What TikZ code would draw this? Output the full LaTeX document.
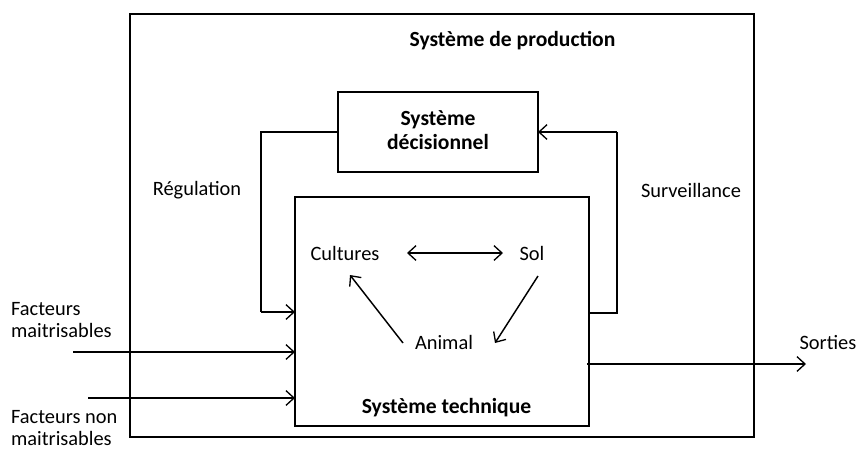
\documentclass[tikz,border=0pt]{standalone}
\usepackage{fontspec}
\setmainfont{Carlito}
\usetikzlibrary{arrows.meta}
\begin{document}
\begin{tikzpicture}[x=0.75pt,y=-0.75pt,
  line width=1.1pt,
  arr/.style={-{Straight Barb[length=6pt,width=11pt,line width=1pt]}},
  darr/.style={{Straight Barb[length=6pt,width=11pt,line width=1pt]}-{Straight Barb[length=6pt,width=11pt,line width=1pt]}},
  box/.style={draw,line width=1.1pt,inner sep=0pt},
  lbl/.style={font=\fontsize{15.3pt}{17pt}\selectfont,inner sep=1pt},
  blbl/.style={font=\fontsize{16.2pt}{17.5pt}\selectfont\bfseries,inner sep=1pt,align=center}]
\useasboundingbox (0,0) rectangle (858,451);
% boxes
\node[box,minimum width=624*0.75pt,minimum height=423*0.75pt] (prod) at (442,225.5) {};
\node[box,minimum width=200*0.75pt,minimum height=80*0.75pt] (dec) at (438,132) {};
\node[box,minimum width=294*0.75pt,minimum height=229*0.75pt] (tech) at (442,311.5) {};
% texts
\node[blbl] (tprod) at (512.5,41) {Système de production};
\node[blbl] (tdec) at (438,130) {Système\\décisionnel};
\node[blbl] (ttech) at (446.5,408) {Système technique};
\node[lbl] (reg) at (197,190) {Régulation};
\node[lbl] (sur) at (691,190) {Surveillance};
\node[lbl] (cult) at (345,253) {Cultures};
\node[lbl] (sol) at (532,253) {Sol};
\node[lbl] (anim) at (444,342) {Animal};
\node[lbl,anchor=west,align=left] (fm) at (9,320) {Facteurs\\maitrisables};
\node[lbl,anchor=west,align=left] (fnm) at (9,428) {Facteurs non\\maitrisables};
\node[lbl,anchor=east,inner sep=0pt] (sort) at (857,343) {Sorties};
% coordinates
\coordinate (regA) at (261,132);
\coordinate (regB) at (261,312);
\coordinate (regC) at (295,312);
\coordinate (surA) at (589,313);
\coordinate (surB) at (617,313);
\coordinate (surC) at (617,132);
\coordinate (surD) at (538,132);
\coordinate (fmA) at (73,352);
\coordinate (fmB) at (295,352);
\coordinate (fnA) at (88,398);
\coordinate (fnB) at (295,398);
\coordinate (soA) at (587,364);
\coordinate (soB) at (806,364);
\coordinate (cA) at (407,253);
\coordinate (cB) at (503,253);
\coordinate (sA) at (538,276);
\coordinate (sB) at (495,343);
\coordinate (aA) at (403,343);
\coordinate (aB) at (350,275);
% connectors
\draw (dec.west |- regA) -- (regA) -- (regB);
\draw[arr] (regB) -- (regC);
\draw (surA) -- (surB) -- (surC);
\draw[arr] (surC) -- (surD);
\draw[arr] (fmA) -- (fmB);
\draw[arr] (fnA) -- (fnB);
\draw[arr] (soA) -- (soB);
\draw[darr] (cA) -- (cB);
\draw[arr] (sA) -- (sB);
\draw[arr] (aA) -- (aB);
\end{tikzpicture}
\end{document}
